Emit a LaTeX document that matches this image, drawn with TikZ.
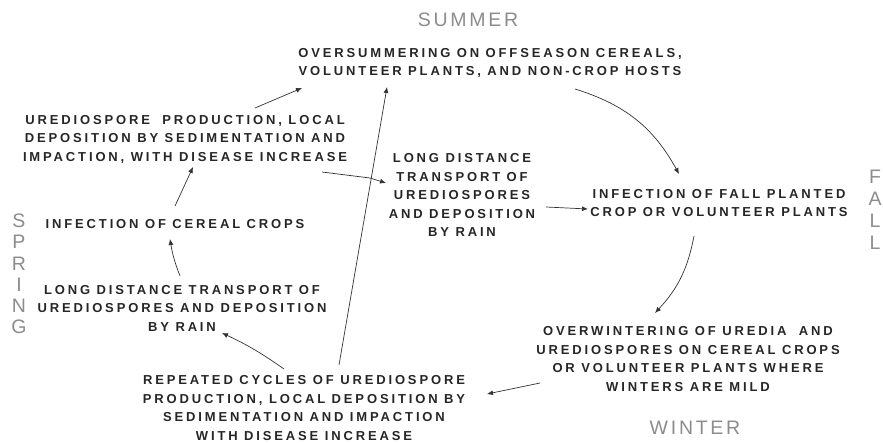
\documentclass[tikz,border=0pt]{standalone}
\usepackage{fontspec}
\setmainfont{Liberation Sans}
\newfontfamily\bodyfont{Liberation Sans}[LetterSpace=22]
\newfontfamily\seasonfont{Liberation Sans}[LetterSpace=14]
\usetikzlibrary{arrows.meta,calc}
\begin{document}
\begin{tikzpicture}[x=1pt,y=-1pt,
  lab/.style={align=center,inner sep=0pt,text=black!85,
    font=\bodyfont\bfseries\fontsize{13}{18.5}\selectfont},
  season/.style={align=center,inner sep=0pt,text=black!45,
    font=\seasonfont\fontsize{19.5}{21.2}\selectfont},
  arr/.style={draw=black!80,line width=0.7pt,-{Latex[length=6pt,width=5pt]}}]
\useasboundingbox (0,0) rectangle (883,443);
% season labels
\node[season] (summer) at (468,20) {SUMMER};
\node[season] (winter) at (695,428) {WINTER};
\node[season] (spring) at (19,274) {S\\P\\R\\I\\N\\G};
\node[season,font=\seasonfont\fontsize{19.5}{22}\selectfont] (fall) at (875,210) {F\\A\\L\\L};
% stages
\node[lab] (top) at (490,63) {OVERSUMMERING ON OFFSEASON CEREALS,\\VOLUNTEER PLANTS, AND NON-CROP HOSTS};
\node[lab] (left) at (185,139) {UREDIOSPORE\hspace{6pt} PRODUCTION, LOCAL\\DEPOSITION BY SEDIMENTATION AND\\IMPACTION, WITH DISEASE INCREASE};
\node[lab] (mid) at (462,195) {LONG DISTANCE\\TRANSPORT OF\\UREDIOSPORES\\AND DEPOSITION\\BY RAIN};
\node[lab] (fallinf) at (719,203) {INFECTION OF FALL PLANTED\\CROP OR VOLUNTEER PLANTS};
\node[lab] (cereal) at (175,224) {INFECTION OF CEREAL CROPS};
\node[lab] (sprtr) at (182,308) {LONG DISTANCE TRANSPORT OF\\UREDIOSPORES AND DEPOSITION\\BY RAIN};
\node[lab] (rep) at (304,408) {REPEATED CYCLES OF UREDIOSPORE\\PRODUCTION, LOCAL DEPOSITION BY\\SEDIMENTATION AND IMPACTION\\WITH DISEASE INCREASE};
\node[lab] (over) at (688,359) {OVERWINTERING OF UREDIA\hspace{6pt} AND\\UREDIOSPORES ON CEREAL CROPS\\OR VOLUNTEER PLANTS WHERE\\WINTERS ARE MILD};
% connectors
\draw[arr] ($(left.center)+(70,-31)$) -- ($(top.center)+(-188,25)$);
\draw[arr] ($(top.center)+(85,26)$) to[bend left=22] ($(fallinf.center)+(-40,-29)$);
\draw[arr] ($(fallinf.center)+(-25,33)$) to[bend left=16] ($(over.center)+(-33,-46)$);
\draw[arr] ($(over.center)+(-148,24)$) -- ($(rep.center)+(183,-14)$);
\draw[arr] ($(rep.center)+(-20,-39)$) to[bend right=5] ($(sprtr.center)+(40,25)$);
\draw[arr] ($(sprtr.center)+(-2,-32)$) to[bend left=6] ($(cereal.center)+(-5,15)$);
\draw[arr] ($(cereal.center)+(0,-18)$) -- ($(left.center)+(8,28)$);
\draw[arr] ($(rep.center)+(35,-43)$) -- ($(top.center)+(-103,24)$);
\draw[arr] ($(left.center)+(137,33)$) -- ($(mid.center)+(-92,-17)$) -- ($(mid.center)+(-76,-12)$);
\draw[arr] ($(mid.center)+(84,12)$) -- ($(fallinf.center)+(-131,6)$);
\end{tikzpicture}
\end{document}
